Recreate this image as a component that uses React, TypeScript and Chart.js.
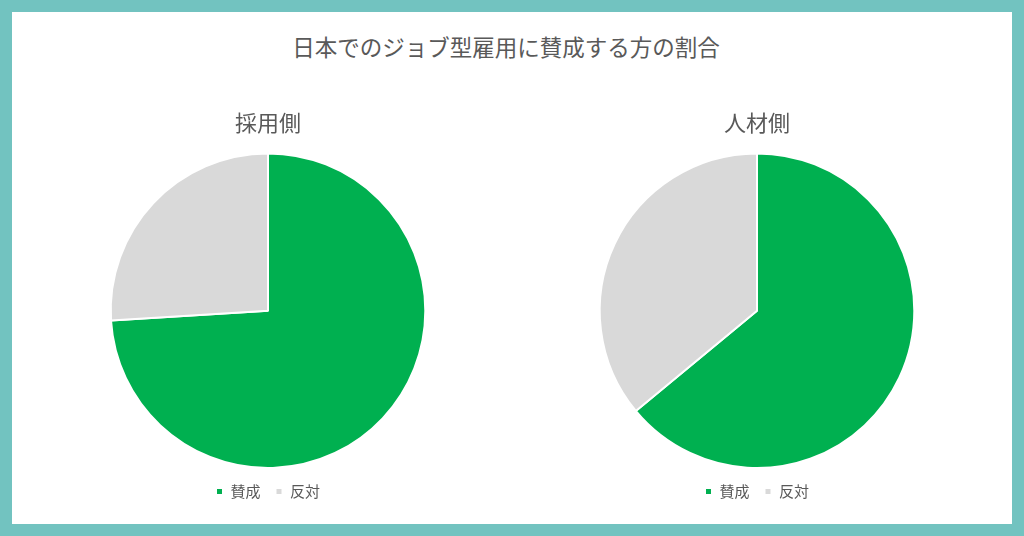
import { useEffect, useRef } from 'react'
import { Chart, registerables } from 'chart.js'

Chart.register(...registerables)

// data
const chartTitle = '日本でのジョブ型雇用に賛成する方の割合'
const categories = ['賛成', '反対']
const employerTitle = '採用側'
const employerValues = [74, 26]
const talentTitle = '人材側'
const talentValues = [64, 36]
const sliceColors = ['#00b050', '#d9d9d9']

const FONT = '"Noto Sans CJK JP", "Noto Sans", sans-serif'
const TEXT = '#595959'

function PieChart({ title, values, left }: { title: string; values: number[]; left: number }) {
    const canvasRef = useRef<HTMLCanvasElement>(null)

    useEffect(() => {
        if (!canvasRef.current) return
        const chart = new Chart(canvasRef.current, {
            type: 'pie',
            data: {
                labels: categories,
                datasets: [{
                    data: values,
                    backgroundColor: sliceColors,
                    borderColor: '#ffffff',
                    borderWidth: 2,
                }],
            },
            options: {
                responsive: false,
                animation: false,
                layout: { padding: 0 },
                plugins: {
                    title: {
                        display: true,
                        text: title,
                        color: TEXT,
                        font: { family: FONT, size: 22, weight: 'normal' },
                        padding: { top: 14, bottom: 17 },
                    },
                    legend: {
                        position: 'bottom',
                        labels: {
                            color: TEXT,
                            font: { family: FONT, size: 15 },
                            boxWidth: 7,
                            boxHeight: 7,
                            padding: 15,
                        },
                    },
                    tooltip: { enabled: false },
                },
            },
        })
        return () => { chart.destroy() }
    }, [title, values])

    return (
        <canvas
            ref={canvasRef}
            width={420}
            height={414}
            style={{ position: 'absolute', left, top: 95, width: 420, height: 414 }}
        />
    )
}

export default function App() {
    return (
        <div style={{ position: 'fixed', left: 0, top: 0, width: 1024, height: 536, background: '#72c3c0' }}>
            <div style={{ position: 'absolute', left: 12, top: 12, width: 1000, height: 512, background: '#ffffff' }} />
            <div style={{
                position: 'absolute', left: -6, top: 32, width: 1024, textAlign: 'center',
                fontFamily: FONT, fontSize: 22.5, lineHeight: '28px', color: TEXT,
            }}>
                {chartTitle}
            </div>
            <PieChart title={employerTitle} values={employerValues} left={58} />
            <PieChart title={talentTitle} values={talentValues} left={547} />
        </div>
    )
}
